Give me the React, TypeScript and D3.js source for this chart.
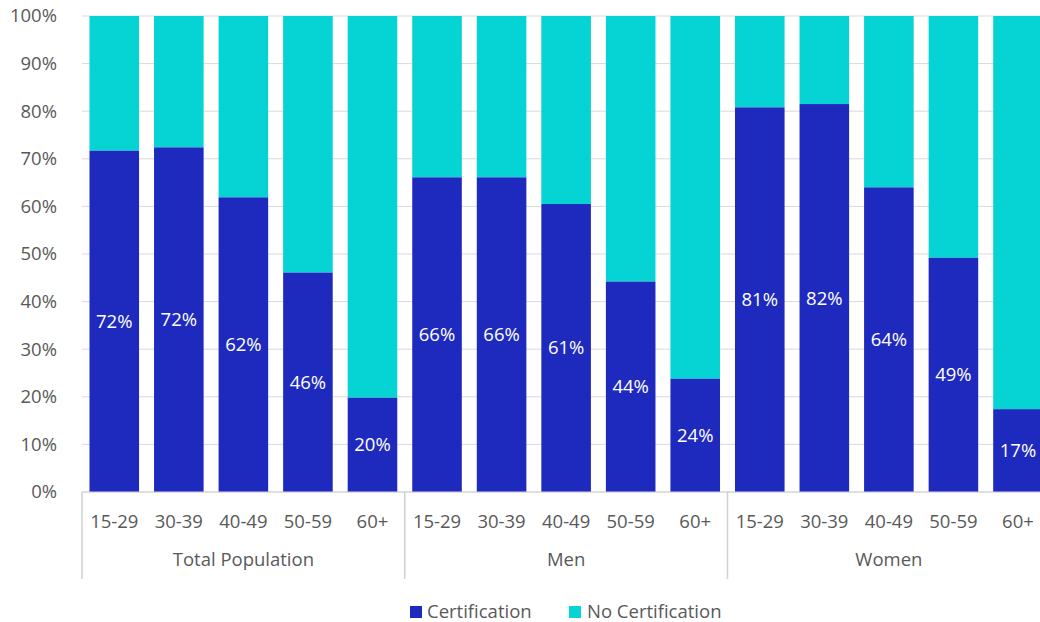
import React from "react";
import * as d3 from "d3";

const groups = ["Total Population", "Men", "Women"];
const ages = ["15-29", "30-39", "40-49", "50-59", "60+"];
const certification = [
  71.7, 72.4, 61.9, 46.1, 19.8,
  66.1, 66.1, 60.5, 44.2, 23.8,
  80.8, 81.5, 64.0, 49.2, 17.4,
];
const yTicks = [0, 10, 20, 30, 40, 50, 60, 70, 80, 90, 100];
const seriesNames = ["Certification", "No Certification"];
const colors = ["#1e2abd", "#06d3d3"];

const W = 1040;
const H = 622;
const left = 82;
const step = 64.55;
const fs = 18.5;
const font = "'Open Sans', 'Noto Sans', sans-serif";

export default function App() {
  const keys = groups.flatMap((g) => ages.map((a) => g + "|" + a));
  const x = d3
    .scaleBand<string>()
    .domain(keys)
    .range([left, left + step * keys.length])
    .paddingInner(0.232)
    .paddingOuter(0.116);
  const y = d3.scaleLinear().domain([0, 100]).range([492, 16]);
  const groupX = (gi: number) => left + gi * step * ages.length;

  return (
    <svg
      width={W}
      height={H}
      style={{ position: "absolute", left: 0, top: 0, background: "#fff" }}
      fontFamily={font}
    >
      {yTicks.map((t) => (
        <g key={t}>
          <line x1={left} x2={W} y1={y(t)} y2={y(t)} stroke="#d9d9d9" strokeWidth={1} />
          <text x={57} y={y(t)} dy="0.35em" textAnchor="end" fontSize={fs} fill="#595959">
            {t}%
          </text>
        </g>
      ))}
      {keys.map((k, i) => {
        const v = certification[i];
        const bx = x(k)!;
        const bw = x.bandwidth();
        return (
          <g key={k}>
            <rect x={bx} y={y(100)} width={bw} height={y(v) - y(100)} fill={colors[1]} />
            <rect x={bx} y={y(v)} width={bw} height={y(0) - y(v)} fill={colors[0]} />
            <text
              x={bx + bw / 2}
              y={(y(v) + y(0)) / 2}
              dy="0.35em"
              textAnchor="middle"
              fontSize={fs}
              fill="#fff"
            >
              {Math.round(v)}%
            </text>
            <text x={bx + bw / 2} y={528} textAnchor="middle" fontSize={fs} fill="#595959">
              {k.split("|")[1]}
            </text>
          </g>
        );
      })}
      <line x1={left} x2={W} y1={y(0)} y2={y(0)} stroke="#d0d0d0" strokeWidth={1} />
      {groups.map((g, gi) => (
        <g key={g}>
          <line
            x1={groupX(gi)}
            x2={groupX(gi)}
            y1={y(0)}
            y2={579}
            stroke="#d0d0d0"
            strokeWidth={1.5}
          />
          <text
            x={groupX(gi) + (step * ages.length) / 2}
            y={566}
            textAnchor="middle"
            fontSize={fs}
            fill="#595959"
          >
            {g}
          </text>
        </g>
      ))}
      <g>
        <rect x={410} y={606} width={12} height={12} fill={colors[0]} />
        <text x={427} y={612} dy="0.35em" fontSize={fs} fill="#595959">
          {seriesNames[0]}
        </text>
        <rect x={569} y={606} width={12} height={12} fill={colors[1]} />
        <text x={587} y={612} dy="0.35em" fontSize={fs} fill="#595959">
          {seriesNames[1]}
        </text>
      </g>
    </svg>
  );
}
